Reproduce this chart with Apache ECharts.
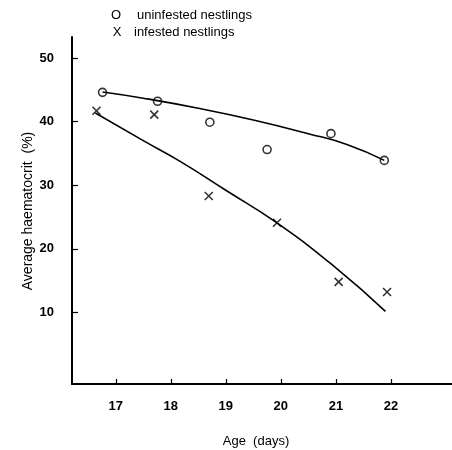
<!DOCTYPE html>
<html><head><meta charset="utf-8">
<script src="https://cdn.jsdelivr.net/npm/echarts@6/dist/echarts.min.js"></script>
<style>html,body{margin:0;padding:0;background:#fff}#c{width:452px;height:450px}</style>
</head><body><div id="c"></div>
<script>
// Observed data (age in days, haematocrit %)
var uninfestedAge = [16.76, 17.76, 18.71, 19.75, 20.91, 21.88];
var uninfestedHct = [44.6, 43.2, 39.9, 35.6, 38.1, 33.9];
var infestedAge = [16.65, 17.70, 18.69, 19.93, 21.05, 21.93];
var infestedHct = [41.7, 41.1, 28.3, 24.1, 14.8, 13.2];
// Fitted curves
var uninfestedFitAge = [16.76, 17.5, 18.5, 19.5, 20.5, 21.2, 21.88];
var uninfestedFitHct = [44.65, 43.68, 42.1, 40.25, 38.1, 36.4, 33.9];
var infestedFitAge = [16.63, 17.5, 18.17, 19.0, 19.93, 21.0, 21.9];
var infestedFitHct = [41.35, 37.0, 33.74, 29.2, 24.06, 17.0, 10.16];
// Tick labels
var xTicks = [17, 18, 19, 20, 21, 22];
var yTicks = [10, 20, 30, 40, 50];
var legendLabels = ['uninfested nestlings', 'infested nestlings'];
var xName = 'Age  (days)';
var yName = 'Average haematocrit  (%)';

function pairs(xs, ys) { return xs.map(function (x, i) { return [x, ys[i]]; }); }

var chart = echarts.init(document.getElementById('c'), null, {renderer: 'canvas'});
var font = '"Liberation Sans", Arial, Helvetica, sans-serif';
var crossPath = 'path://M0,0L10,10M10,0L0,10';
chart.setOption({
  animation: false,
  backgroundColor: '#fff',
  grid: {left: 72, top: 37, right: 0, bottom: 66},
  xAxis: {
    type: 'value', min: 16.205, max: 23.11,
    axisLine: {onZero: false, lineStyle: {color: '#000', width: 2}},
    axisTick: {inside: true, length: 5, customValues: xTicks, lineStyle: {color: '#000', width: 1.2}},
    axisLabel: {customValues: xTicks, margin: 16, color: '#000', fontFamily: font, fontWeight: 'bold', fontSize: 13},
    splitLine: {show: false}
  },
  yAxis: {
    type: 'value', min: -1.26, max: 53.3,
    axisLine: {show: true, onZero: false, lineStyle: {color: '#000', width: 2}},
    axisTick: {show: true, inside: true, length: 6, customValues: yTicks, lineStyle: {color: '#000', width: 1.2}},
    axisLabel: {customValues: yTicks, margin: 18, color: '#000', fontFamily: font, fontWeight: 'bold', fontSize: 13},
    splitLine: {show: false}
  },
  graphic: [
    {type: 'text', x: 116, y: 15, style: {text: 'O', font: '13px ' + font, fill: '#000', textAlign: 'center', textVerticalAlign: 'middle'}},
    {type: 'text', x: 137, y: 15, style: {text: legendLabels[0], font: '13px ' + font, fill: '#000', textAlign: 'left', textVerticalAlign: 'middle'}},
    {type: 'text', x: 117, y: 32, style: {text: 'X', font: '13px ' + font, fill: '#000', textAlign: 'center', textVerticalAlign: 'middle'}},
    {type: 'text', x: 134, y: 32, style: {text: legendLabels[1], font: '13px ' + font, fill: '#000', textAlign: 'left', textVerticalAlign: 'middle'}},
    {type: 'text', x: 256, y: 441, style: {text: xName, font: '13px ' + font, fill: '#000', textAlign: 'center', textVerticalAlign: 'middle'}},
    {type: 'text', x: 28, y: 211, rotation: Math.PI / 2, style: {text: yName, font: '14px ' + font, fill: '#000', textAlign: 'center', textVerticalAlign: 'middle'}}
  ],
  series: [
    {type: 'line', data: pairs(uninfestedFitAge, uninfestedFitHct), smooth: true, showSymbol: false, silent: true,
      lineStyle: {color: '#000', width: 1.6}},
    {type: 'line', data: pairs(infestedFitAge, infestedFitHct), smooth: true, showSymbol: false, silent: true,
      lineStyle: {color: '#000', width: 1.6}},
    {type: 'scatter', name: legendLabels[0], data: pairs(uninfestedAge, uninfestedHct), symbol: 'circle', symbolSize: 8,
      itemStyle: {color: '#fff', borderColor: '#000', borderWidth: 1.6}},
    {type: 'scatter', name: legendLabels[1], data: pairs(infestedAge, infestedHct), symbol: crossPath, symbolSize: 8,
      itemStyle: {color: 'none', borderColor: '#000', borderWidth: 1.6}}
  ]
});
</script></body></html>
